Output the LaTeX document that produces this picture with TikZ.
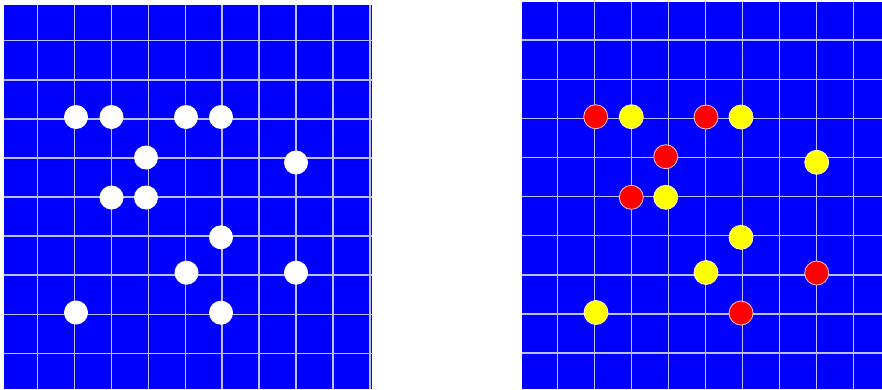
\documentclass[tikz,border=0pt]{standalone}
\begin{document}
\begin{tikzpicture}[x=1pt,y=-1pt,
  panel/.style={fill={rgb,255:red,0;green,0;blue,255}, draw=none},
  gridline/.style={draw={rgb,255:red,190;green,190;blue,255}, line width=1.5pt},
  wstone/.style={circle, fill=white, draw=none, minimum size=24pt, inner sep=0pt},
  rstone/.style={circle, fill={rgb,255:red,255;green,0;blue,0}, draw={rgb,255:red,255;green,200;blue,200}, line width=0.8pt, minimum size=24pt, inner sep=0pt},
  ystone/.style={circle, fill={rgb,255:red,255;green,255;blue,0}, draw={rgb,255:red,255;green,245;blue,200}, line width=0.8pt, minimum size=24pt, inner sep=0pt}]
\useasboundingbox (0,0) rectangle (882,389);
% left panel
\fill[panel] (4,5) rectangle (372,389);
\foreach \k in {0,...,9} \draw[gridline] ({37.7+36.9*\k},5) -- ({37.7+36.9*\k},389);
\foreach \k in {0,...,8} \draw[gridline] (4,{40.7+39.08*\k}) -- (372,{40.7+39.08*\k});
% right panel
\fill[panel] (522,2) rectangle (882,389);
\foreach \k in {0,...,8} \draw[gridline] ({557.3+37*\k},2) -- ({557.3+37*\k},389);
\foreach \k in {0,...,8} \draw[gridline] (522,{40.2+39.1*\k}) -- (882,{40.2+39.1*\k});
% left stones
\node[wstone] (w1) at (76,117) {};
\node[wstone] (w2) at (111.5,117) {};
\node[wstone] (w3) at (186,117) {};
\node[wstone] (w4) at (221,117) {};
\node[wstone] (w5) at (146,157.5) {};
\node[wstone] (w6) at (296,162.5) {};
\node[wstone] (w7) at (111.5,197.5) {};
\node[wstone] (w8) at (146,197.5) {};
\node[wstone] (w9) at (221,237.3) {};
\node[wstone] (w10) at (186.5,272.7) {};
\node[wstone] (w11) at (296,272.7) {};
\node[wstone] (w12) at (76,312.5) {};
\node[wstone] (w13) at (221,312.7) {};
% right stones
\node[rstone] (r1) at (595.7,116.7) {};
\node[ystone] (y1) at (631.3,116.7) {};
\node[rstone] (r2) at (706,117) {};
\node[ystone] (y2) at (741,117) {};
\node[rstone] (r3) at (665.7,156.7) {};
\node[ystone] (y3) at (816.7,162.3) {};
\node[rstone] (r4) at (631.3,197.3) {};
\node[ystone] (y4) at (665.7,197.3) {};
\node[ystone] (y5) at (741,237.3) {};
\node[ystone] (y6) at (706,272.5) {};
\node[rstone] (r5) at (816.7,273) {};
\node[ystone] (y7) at (596,312.5) {};
\node[rstone] (r6) at (741,313) {};
\end{tikzpicture}
\end{document}
